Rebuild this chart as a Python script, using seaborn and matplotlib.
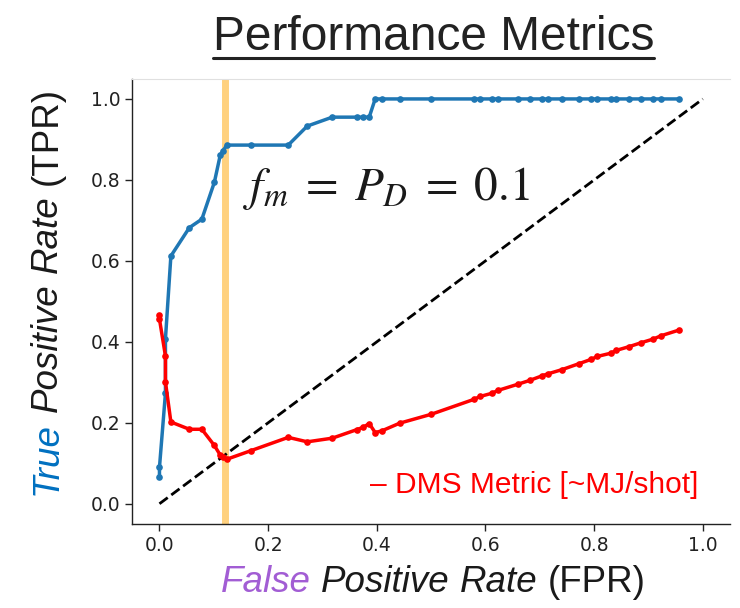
import matplotlib
matplotlib.use("Agg")
import matplotlib.pyplot as plt
from matplotlib.lines import Line2D
import seaborn as sns
import pandas as pd

# ---- data ----
fpr = [0.0, 0.0, 0.011, 0.011, 0.021, 0.055, 0.078, 0.101, 0.112, 0.117, 0.124,
       0.168, 0.237, 0.272, 0.318, 0.363, 0.375, 0.386, 0.397, 0.409, 0.442,
       0.500, 0.579, 0.590, 0.612, 0.623, 0.659, 0.682, 0.704, 0.715, 0.740,
       0.772, 0.795, 0.806, 0.831, 0.841, 0.864, 0.887, 0.909, 0.923, 0.956]
tpr = [0.067, 0.090, 0.273, 0.407, 0.612, 0.682, 0.703, 0.794, 0.862, 0.872, 0.886,
       0.886, 0.886, 0.933, 0.955, 0.955, 0.955, 0.955, 1.0, 1.0, 1.0,
       1.0, 1.0, 1.0, 1.0, 1.0, 1.0, 1.0, 1.0, 1.0, 1.0,
       1.0, 1.0, 1.0, 1.0, 1.0, 1.0, 1.0, 1.0, 1.0, 1.0]
dms = [0.467, 0.456, 0.365, 0.301, 0.202, 0.184, 0.184, 0.144, 0.120, 0.116, 0.110,
       0.131, 0.164, 0.153, 0.162, 0.183, 0.189, 0.198, 0.176, 0.180, 0.199,
       0.221, 0.258, 0.265, 0.273, 0.280, 0.295, 0.305, 0.316, 0.321, 0.331,
       0.346, 0.357, 0.364, 0.372, 0.379, 0.388, 0.398, 0.407, 0.415, 0.429]
diag = [0.0, 1.0]
threshold_fpr = 0.121
ticks = [0.0, 0.2, 0.4, 0.6, 0.8, 1.0]
tick_labels = ["0.0", "0.2", "0.4", "0.6", "0.8", "1.0"]

df = pd.DataFrame({"fpr": fpr, "tpr": tpr, "dms": dms})

sns.set_style("ticks")
plt.rcParams["mathtext.fontset"] = "stix"
plt.rcParams["font.family"] = ["DejaVu Sans"]

W, H = 740, 608
fig = plt.figure(figsize=(W / 100, H / 100), dpi=100)
ax = fig.add_axes([132.3 / W, 1 - 524 / H, (730 - 132.3) / W, (524 - 78.7) / H])

ax.axvline(threshold_fpr, color="orange", alpha=0.5, lw=5, zorder=1)
sns.lineplot(x=diag, y=diag, ax=ax, color="black", lw=2, linestyle="--", zorder=2)
sns.lineplot(data=df, x="fpr", y="tpr", ax=ax, sort=False, estimator=None,
             color="#1f77b4", lw=2.5, marker="o", markersize=4.8,
             markeredgewidth=0, zorder=3)
sns.lineplot(data=df, x="fpr", y="dms", ax=ax, sort=False, estimator=None,
             color="red", lw=2.5, marker="o", markersize=4.8,
             markeredgewidth=0, zorder=3)

ax.set_xlim(-0.05, 1.05)
ax.set_ylim(-0.05, 1.05)
ax.set_xticks(ticks)
ax.set_xticklabels(tick_labels)
ax.set_yticks(ticks)
ax.set_yticklabels(tick_labels)
ax.tick_params(labelsize=13.5, colors="#222222", length=5, width=1)
ax.set_xlabel("")
ax.set_ylabel("")
for s in ["left", "bottom"]:
    ax.spines[s].set_color("#222222")
    ax.spines[s].set_linewidth(1)
ax.spines["right"].set_visible(False)
ax.spines["top"].set_color("#e0e0e0")

ax.text(0.153, 0.78, r"$f_m\;=\;P_D\;=\;0.1$", fontsize=34, color="#1a1a1a",
        va="center", ha="left")
ax.text(0.991, 0.047, "\u2013 DMS Metric [~MJ/shot]", fontsize=21.5, color="red",
        family="Liberation Sans", ha="right", va="center")

# ---- title with underline ----
title = fig.text(433.5 / W, 1 - 50 / H, "Performance Metrics", ha="center",
                 va="baseline", fontsize=34.5, family="Liberation Sans",
                 color="#222222")

fig.canvas.draw()
renderer = fig.canvas.get_renderer()
bb = title.get_window_extent(renderer)
fig.add_artist(Line2D([bb.x0 / W, bb.x1 / W], [(H - 57.5) / H, (H - 57.5) / H],
                      transform=fig.transFigure, color="#222222", lw=2.2))


def rich_label(pieces, base_px, center_px, size, vertical=False):
    """Place consecutive styled text pieces; base_px is baseline pos, center_px centre."""
    gap = 0.278 * size * 100 / 72
    objs = []
    for s, props in pieces:
        t = fig.text(0, 0, s, fontsize=size, family="Liberation Sans",
                     rotation=90 if vertical else 0, rotation_mode="anchor",
                     ha="left", va="baseline", transform=None, **props)
        objs.append(t)
    fig.canvas.draw()
    lens = []
    for t in objs:
        e = t.get_window_extent(renderer)
        lens.append(e.height if vertical else e.width)
    total = sum(lens) + gap * (len(objs) - 1)
    pos = center_px - total / 2
    for t, L in zip(objs, lens):
        if vertical:
            t.set_position((base_px, pos))
        else:
            t.set_position((pos, base_px))
        pos += L + gap


# x label
rich_label([("False", dict(color="#A25DD4", style="italic")),
            ("Positive", dict(color="#1a1a1a", style="italic")),
            ("Rate", dict(color="#1a1a1a", style="italic")),
            ("(FPR)", dict(color="#1a1a1a"))],
           base_px=H - 592, center_px=433, size=26.5)
# y label (drawn bottom to top)
rich_label([("True", dict(color="#0070C0", style="italic")),
            ("Positive", dict(color="#1a1a1a", style="italic")),
            ("Rate", dict(color="#1a1a1a", style="italic")),
            ("(TPR)", dict(color="#1a1a1a"))],
           base_px=57, center_px=H - 291, size=26.5, vertical=True)

fig.savefig("out.png", dpi=100)
